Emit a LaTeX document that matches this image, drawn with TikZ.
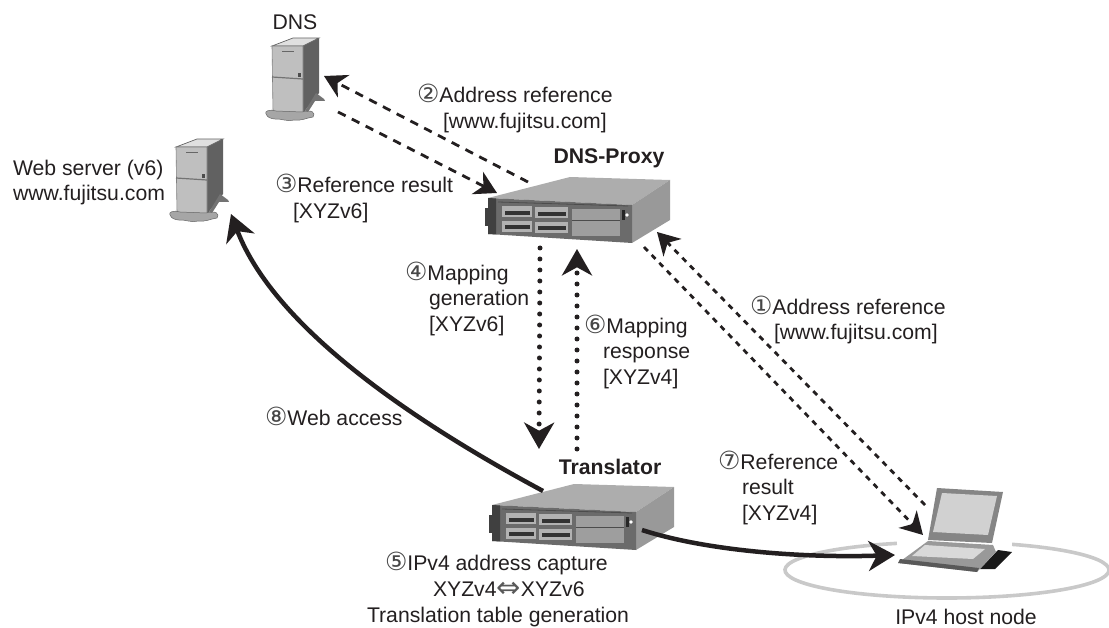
\documentclass[tikz,border=0pt]{standalone}
\usepackage{fontspec}
\setmainfont{Liberation Sans}
\newfontfamily\circfont{DejaVu Sans}
\usetikzlibrary{arrows.meta}
\definecolor{ink}{HTML}{231F20}
\definecolor{ring}{HTML}{C9C9C9}
\newcommand{\cnum}[1]{\smash{\color{black!72}\circfont\fontsize{25}{25}\selectfont #1}}
\tikzset{
  x=1pt,y=-1pt,
  txt/.style={inner sep=0pt,outer sep=0pt,text=ink,font=\fontsize{21.2}{25.7}\selectfont,align=left},
  bold/.style={txt,font=\fontsize{21.2}{25.7}\selectfont\bfseries},
  head/.style={-{Stealth[length=.88*#1,width=#1,inset=.27*#1]}},
  dashline/.style={ink,line width=2.8pt,dash pattern=on 8.5pt off 7pt,head=25pt},
  dashline2/.style={ink,line width=2.8pt,dash pattern=on 5.5pt off 5.5pt,head=25pt},
  dotline/.style={ink,line width=5pt,line cap=round,dash pattern=on 0pt off 11pt,head=30pt},
  solidline/.style={ink,line width=4.5pt,head=30pt},
  pics/tower/.style={code={
    \fill[black!62] (31,0) -- (47,-8) -- (47,47) -- (31,67) -- cycle;
    \fill[black!12] (0,0) -- (21,-8) -- (47,-8) -- (31,0) -- cycle;
    \draw[black!60,line width=.7pt] (0,0) -- (21,-8) -- (47,-8) -- (31,0) -- cycle;
    \fill[black!25] (0,0) -- (31,0) -- (31,67) -- (1,66) -- cycle;
    \draw[black!50,line width=.6pt] (0,0) -- (31,0) -- (31,67) -- (1,66) -- cycle;
    \draw[black!55,line width=1.2pt] (0,31) -- (31,33);
    \draw[black!60,line width=.9pt] (10,5) -- (22,5);
    \fill[black!70] (26,27) rectangle (29,31);
    \fill[black!35,draw=black!60,line width=.5pt] (-6,68) .. controls (-8,65) and (-2,63) .. (4,65) -- (30,66)
      .. controls (40,63) and (44,67) .. (41,71) .. controls (34,72) and (30,75) .. (22,74)
      .. controls (14,76) and (8,72) .. (2,73) .. controls (-2,72) and (-4,72) .. (-6,68) -- cycle;
    \fill[black!55] (33,65) -- (44,47) -- (52,53) -- (53,55) -- (43,55) -- (36,66) -- cycle;
  }},
  pics/rack/.style={code={
    \fill[black!32] (0,0) -- (82,-21) -- (182,-18) -- (144,7) -- cycle;
    \fill[black!40] (144,7) -- (182,-18) -- (182,22) -- (144,45) -- cycle;
    \fill[black!58] (0,0) -- (144,7) -- (144,45) -- (0,36) -- cycle;
    \fill[black!38] (84,11) rectangle (132,38);
    \draw[black!70,line width=.6pt] (84,22) -- (132,22);
    \fill[black!75] (0,0) -- (8,.5) -- (8,36.4) -- (0,36) -- cycle;
    \fill[black!75] (-3,10) rectangle (3,28);
    \fill[black!30] (14,8) rectangle (44,19);
    \fill[black!30] (47,9) rectangle (80,20);
    \fill[black!30] (14,23) rectangle (44,34);
    \fill[black!30] (47,24) rectangle (80,35);
    \fill[black!80] (17,13) rectangle (42,17);
    \fill[black!80] (50,14) rectangle (78,18);
    \fill[black!80] (17,27) rectangle (42,31);
    \fill[black!80] (50,28) rectangle (78,32);
    \fill[white] (139,17) circle (1.9);
    \fill[black!85] (134,12) rectangle (137,22);
    \draw[black!70,line width=.8pt] (10,4) -- (140,8);
  }},
}
\begin{document}
\begin{tikzpicture}
\useasboundingbox (0,0) rectangle (1109,628);
% named anchor points
\coordinate (dnsIn) at (324,76);
\coordinate (dnsOut) at (338,112);
\coordinate (proxyOutDns) at (528,182);
\coordinate (proxyInDns) at (497,193);
\coordinate (proxyInHost) at (657,232);
\coordinate (proxyOutHost) at (644,247);
\coordinate (proxyDown) at (540,248);
\coordinate (proxyUp) at (577,249);
\coordinate (transIn) at (539,449);
\coordinate (transOut) at (577,449);
\coordinate (transWeb) at (543,491);
\coordinate (transHost) at (642,530);
\coordinate (webIn) at (231,214);
\coordinate (hostOut) at (925,505);
\coordinate (hostIn) at (923,535);
\coordinate (hostLan) at (895,555);
% IPv4 ring
\draw[ring,line width=3.6pt] (947,570) ++(-66.3:162 and 28) arc[start angle=-66.3,end angle=252,x radius=162,y radius=28];
% servers
\pic at (272,46) {tower};
\pic at (176,147) {tower};
\begin{scope}[shift={(488,198)}]\pic {rack};\end{scope}
\begin{scope}[shift={(492,505)},scale=.95]\pic {rack};\end{scope}
% laptop
\fill[black!90] (998,550) -- (1012,552) -- (995,569) -- (980,569) -- cycle;
\fill[black!40] (928,541) -- (993,545) -- (996,552) -- (977,572) -- (898,563) -- cycle;
\fill[black!15] (925,545) -- (985,549) -- (973,559) -- (912,556) -- cycle;
\fill[black!65] (898,563) -- (977,572) -- (979,568) -- (900,559) -- cycle;
\fill[black!48] (937,488) -- (1003,492) -- (992,543) -- (928,540) -- cycle;
\fill[black!18] (942,493) -- (997,496) -- (988,535) -- (933,532) -- cycle;
% connectors
\draw[dashline] (proxyOutDns) -- (dnsIn);
\draw[dashline] (dnsOut) -- (proxyInDns);
\draw[dashline2] (hostOut) -- (proxyInHost);
\draw[dashline2] (proxyOutHost) -- (hostIn);
\draw[dotline] (proxyDown) -- (transIn);
\draw[dotline] (transOut) -- (proxyUp);
\draw[solidline] (transWeb) .. controls (420,425) and (275,330) .. (webIn);
\draw[solidline] (transHost) .. controls (710,552) and (810,558) .. (hostLan);
% labels
\node[txt,anchor=center] (lDns) at (295,22) {DNS};
\node[txt,anchor=west] (lWeb) at (13,182.5) {Web server (v6)\\www.fujitsu.com};
\node[bold,anchor=center] (lProxy) at (609,158) {DNS-Proxy};
\node[bold,anchor=center] (lTrans) at (610,466.5) {Translator};
\node[txt,anchor=west] (l2) at (417,110) {\cnum{②}Address reference\\\hspace*{26pt}[www.fujitsu.com]};
\node[txt,anchor=west] (l3) at (275,200) {\cnum{③}Reference result\\\hspace*{18pt}[XYZv6]};
\node[txt,anchor=west] (l4) at (405,300.5) {\cnum{④}Mapping\\\hspace*{24pt}generation\\\hspace*{24pt}[XYZv6]};
\node[txt,anchor=west] (l6) at (584,353.5) {\cnum{⑥}Mapping\\\hspace*{19pt}response\\\hspace*{19pt}[XYZv4]};
\node[txt,anchor=west] (l1) at (750,321.5) {\cnum{①}Address reference\\\hspace*{24pt}[www.fujitsu.com]};
\node[txt,anchor=west] (l7) at (718,489.5) {\cnum{⑦}Reference\\\hspace*{24pt}result\\\hspace*{24pt}[XYZv4]};
\node[txt,anchor=west] (l8) at (265,418) {\cnum{⑧}Web access};
\node[txt,anchor=west] (l5) at (367,591) {\hspace*{18pt}\cnum{⑤}IPv4 address capture\\\hspace*{66pt}XYZv4\smash{\color{black!65}\circfont\fontsize{29}{25}\selectfont\raisebox{-1pt}{⇔}}XYZv6\\Translation table generation};
\node[txt,anchor=center] (lHost) at (966,617) {IPv4 host node};
\end{tikzpicture}
\end{document}
